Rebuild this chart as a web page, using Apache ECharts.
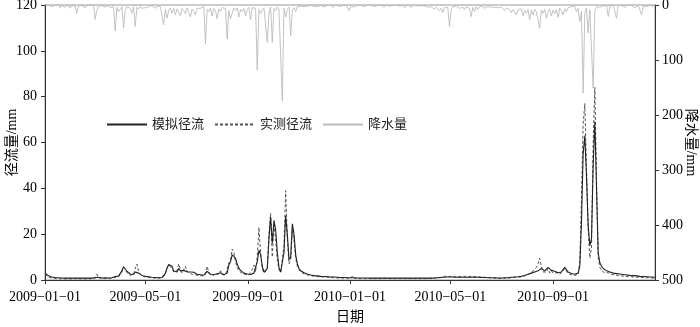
<!DOCTYPE html>
<html><head><meta charset="utf-8">
<script src="https://cdn.jsdelivr.net/npm/echarts@6/dist/echarts.min.js"></script>
<style>html,body{margin:0;padding:0;background:#fff}#c{width:700px;height:327px}</style>
</head><body><div id="c"></div><script>
// sampling: every 2 days starting 2009-01-01 (366 samples, to 2011-01-01)
const startYear = 2009, stepDays = 2;
const xTickLabels = ['2009-01-01','2009-05-01','2009-09-01','2010-01-01','2010-05-01','2010-09-01'];
const leftTicks = [0,20,40,60,80,100,120];
const rightTicks = [0,100,200,300,400,500];

const precip = [
0,1,0,2,3,0,1,2,0,5,
1,0,4,1,0,6,2,0,1,15,
2,0,1,2,5,1,4,0,2,1,
26,10,2,5,1,3,4,2,1,5,
2,3,47,4,12,8,3,42,10,3,
2,6,15,3,39,4,8,2,6,3,
5,2,3,4,1,3,6,2,5,3,
4,36,8,24,10,5,15,6,18,7,
12,20,6,10,16,5,8,22,7,12,
18,6,4,6,4,3,71,8,12,5,
20,6,10,25,7,12,5,8,6,62,
10,25,15,6,10,5,22,8,12,6,
20,8,4,27,5,8,6,118,8,15,
10,5,6,68,15,4,68,6,10,4,
8,5,174,6,22,8,4,56,10,5,
12,3,5,2,1,3,1,2,4,1,
0,2,1,3,0,1,2,3,0,1,
2,0,4,1,0,2,3,0,1,2,
0,1,10,2,0,4,1,0,2,1,
0,3,1,0,2,0,1,3,0,1,
2,0,1,4,0,1,2,0,1,3,
0,1,2,0,1,5,2,0,1,4,
2,0,1,2,3,1,0,2,1,4,
2,3,5,8,4,3,10,6,14,5,
8,4,39,10,3,4,2,5,6,3,
4,8,3,5,6,21,4,12,3,8,
3,5,2,6,8,3,6,4,2,4,
3,5,6,4,7,10,5,6,8,14,
8,6,18,9,12,7,20,10,15,8,
27,9,18,8,12,10,42,9,15,8,
24,12,7,20,9,16,8,22,6,10,
18,7,12,5,8,3,4,2,12,6,
30,12,160,15,5,51,8,10,151,10,
3,2,4,1,2,3,1,21,2,4,
1,2,24,1,3,1,2,4,1,0,
3,1,0,5,2,1,0,18,2,1,
3,0,1,4,2,0
];

const simRunoff = [
3.0,2.4,1.9,1.5,1.3,1.2,1.1,1.0,1.0,0.9,
0.9,0.8,0.8,0.9,0.8,0.8,0.9,0.8,0.8,0.8,
0.8,0.9,0.8,0.8,0.8,0.9,0.9,0.8,0.8,0.9,
1.0,1.6,1.2,0.9,0.9,0.9,1.0,1.0,0.9,0.9,
1.0,1.2,1.5,1.6,1.7,2.2,4.0,5.8,5.0,3.8,
3.0,2.6,2.2,2.4,3.5,3.8,3.0,2.4,2.0,1.8,
1.6,1.5,1.4,1.3,1.2,1.2,1.1,1.0,1.0,1.0,
1.1,1.5,2.8,5.0,6.8,7.5,6.0,4.0,3.2,3.5,
5.0,4.0,3.2,4.2,4.6,3.6,3.0,3.5,2.8,3.4,
2.7,2.5,2.4,2.3,2.2,2.1,2.3,3.8,3.0,2.5,
2.8,2.4,3.0,2.6,2.7,3.2,2.6,2.3,2.5,3.0,
6.5,8.0,11.0,11.5,9.5,7.0,5.2,4.2,3.5,3.0,
2.8,2.6,2.5,2.4,2.8,3.0,3.6,8.0,13.0,11.0,
6.0,3.5,2.8,5.0,18.0,27.5,16.0,26.0,22.0,12.0,
5.5,3.5,3.0,12.0,28.0,20.0,9.0,10.0,24.5,20.0,
11.0,7.0,5.0,4.0,3.6,3.2,2.9,2.6,2.4,2.2,
2.0,1.9,1.8,1.8,1.7,1.6,1.6,1.5,1.5,1.4,
1.4,1.3,1.3,1.3,1.2,1.2,1.2,1.1,1.1,1.1,
1.0,1.0,1.0,1.0,1.1,1.0,0.9,0.9,0.9,0.9,
0.9,0.9,0.8,0.9,0.8,0.8,0.8,0.9,0.8,0.8,
0.8,0.8,0.8,0.8,0.9,0.8,0.8,0.8,0.8,0.8,
0.8,0.8,0.9,0.8,0.8,0.8,0.8,0.8,0.8,0.8,
0.8,0.8,0.8,0.8,0.8,0.8,0.8,0.9,0.8,0.8,
0.8,0.8,0.9,0.9,0.9,1.0,1.0,1.1,1.2,1.2,
1.3,1.3,1.4,1.3,1.3,1.2,1.2,1.2,1.1,1.2,
1.2,1.2,1.3,1.2,1.2,1.2,1.3,1.3,1.2,1.2,
1.2,1.1,1.1,1.1,1.0,1.0,1.0,1.0,1.0,1.0,
1.0,0.9,0.9,0.9,0.9,1.0,1.0,1.0,1.1,1.2,
1.2,1.3,1.3,1.4,1.5,1.6,1.8,2.0,2.2,2.5,
2.8,3.0,3.2,3.5,3.8,4.0,4.5,5.0,4.5,4.0,
4.5,5.5,4.8,4.2,4.5,3.8,3.5,3.2,3.0,3.5,
4.5,5.5,4.5,3.5,3.0,2.8,2.6,2.5,2.6,3.0,
6.0,25.0,55.0,63.0,45.0,24.0,15.0,18.0,50.0,69.0,
40.0,12.0,7.5,6.0,5.0,4.5,4.0,3.8,3.5,3.2,
3.0,2.9,2.8,2.7,2.6,2.5,2.4,2.3,2.2,2.1,
2.0,1.9,1.9,1.8,1.8,1.7,1.6,1.6,1.5,1.5,
1.4,1.4,1.3,1.3,1.2,1.2
];

const obsRunoff = [
2.5,1.8,1.3,1.0,0.8,0.7,0.6,0.6,0.6,0.6,
0.5,0.5,0.5,0.6,0.5,0.5,0.5,0.5,0.6,0.5,
0.5,0.5,0.5,0.6,0.5,0.5,0.5,0.5,0.6,0.5,
0.8,2.6,1.0,0.7,0.7,0.7,0.7,0.7,0.7,0.7,
0.8,0.9,1.1,1.3,1.5,2.0,3.5,5.5,4.5,3.2,
2.4,2.0,1.8,2.5,5.0,7.0,4.0,2.5,1.8,1.5,
1.3,1.2,1.1,1.0,0.9,0.9,0.8,0.8,0.8,0.8,
0.9,1.5,3.0,5.5,6.5,7.0,5.0,3.5,3.0,4.0,
7.0,4.5,3.0,4.5,6.0,4.0,3.0,3.2,2.5,3.0,
2.2,2.0,1.9,1.8,1.8,1.8,2.5,6.0,3.5,2.3,
2.5,2.0,3.0,2.2,2.5,4.0,2.4,2.0,2.2,2.8,
7.5,8.5,13.5,12.0,8.0,5.5,4.0,3.2,2.8,2.5,
2.4,2.3,2.2,2.5,4.5,6.5,3.5,10.0,23.0,12.0,
5.0,3.0,2.5,4.5,20.0,29.0,10.0,24.0,18.0,9.0,
4.5,3.2,3.0,15.0,39.0,18.0,7.0,9.0,22.0,17.0,
9.5,6.0,4.5,3.5,3.0,2.7,2.4,2.2,2.0,1.9,
1.8,1.7,1.6,1.5,1.5,1.4,1.3,1.3,1.2,1.2,
1.1,1.1,1.0,1.0,1.0,0.9,0.9,0.9,0.8,0.8,
0.8,0.8,0.7,0.7,1.8,0.8,0.7,0.6,0.6,0.6,
0.6,0.6,0.6,0.6,0.6,0.6,0.6,0.6,0.6,0.6,
0.6,0.6,0.6,0.7,0.6,0.6,0.6,0.6,0.6,0.6,
0.6,0.6,0.6,0.6,0.7,0.6,0.6,0.6,0.6,0.6,
0.6,0.6,0.6,0.6,0.6,0.6,0.6,0.6,0.6,0.6,
0.6,0.7,0.7,0.8,0.8,0.9,1.0,1.2,1.4,1.6,
1.8,1.5,1.4,1.5,1.6,1.5,1.4,1.5,1.6,1.5,
1.5,1.6,1.5,1.4,1.5,1.6,1.5,1.4,1.5,1.4,
1.4,1.3,1.3,1.2,1.2,1.1,1.0,0.9,0.9,0.8,
0.8,0.8,0.7,0.7,0.7,0.8,0.8,0.8,0.9,1.0,
1.0,1.1,1.2,1.3,1.3,1.4,1.6,1.8,2.0,2.4,
2.8,3.2,3.8,4.5,5.5,7.0,9.5,6.0,3.5,2.8,
3.5,5.0,3.0,4.0,3.0,2.8,3.2,2.6,2.5,3.0,
4.0,5.0,3.8,2.8,2.4,2.2,2.1,2.0,2.1,2.5,
8.0,35.0,68.0,77.0,50.0,22.0,9.6,14.0,60.0,84.0,
45.0,10.0,5.5,4.2,3.5,3.0,2.8,3.2,2.6,2.4,
2.2,2.3,2.0,1.9,1.8,1.8,1.7,1.6,1.5,1.5,
1.4,1.4,1.3,1.3,1.2,1.2,1.1,1.1,1.1,1.0,
1.0,1.0,0.9,0.9,0.9,0.9
];

// x positions are day offsets from 2009-01-01
const DAY = 86400000;
const t0 = new Date(startYear, 0, 1).getTime();
const dayOffset = s => { const p = s.split('-').map(Number); return Math.round((new Date(p[0], p[1] - 1, p[2]).getTime() - t0) / DAY); };
const xs = simRunoff.map((_, i) => i * stepDays);
const tickDays = xTickLabels.map(dayOffset);
const labelFor = v => { const k = tickDays.indexOf(Math.round(v)); return k >= 0 ? xTickLabels[k].replace(/-/g, '\u2212') : ''; };

const serif = "'Liberation Serif','Noto Sans CJK SC',serif";
const axisCol = '#333';

const chart = echarts.init(document.getElementById('c'), null, { renderer: 'canvas' });
chart.setOption({
  animation: false,
  backgroundColor: '#fff',
  grid: { left: 45, right: 45, top: 5, bottom: 47, containLabel: false, outerBoundsMode: 'none',
          show: true, borderColor: '#999', borderWidth: 1, backgroundColor: 'transparent' },
  legend: {
    left: 101, top: 113, itemWidth: 40, itemHeight: 14, itemGap: 10,
    itemStyle: { opacity: 0 },
    textStyle: { fontFamily: serif, fontSize: 13, color: '#222' },
    data: ['模拟径流', '实测径流', '降水量']
  },
  xAxis: {
    type: 'value', min: xs[0], max: xs[xs.length - 1],
    name: '日期', nameLocation: 'middle', nameGap: 30, nameMoveOverlap: false,
    nameTextStyle: { fontFamily: serif, fontSize: 14, color: '#000' },
    axisLine: { lineStyle: { color: axisCol, width: 1 } },
    axisTick: { show: true, inside: false, length: 4, customValues: tickDays, lineStyle: { color: axisCol } },
    axisLabel: { customValues: tickDays, formatter: labelFor, fontFamily: serif, fontSize: 14, color: '#000', margin: 10 },
    splitLine: { show: false }
  },
  yAxis: [{
    type: 'value', min: leftTicks[0], max: leftTicks[leftTicks.length - 1], interval: 20,
    name: '径流量/mm', nameLocation: 'middle', nameGap: 26, nameRotate: 90, nameMoveOverlap: false,
    nameTextStyle: { fontFamily: serif, fontSize: 14, color: '#000' },
    axisLine: { show: true, lineStyle: { color: axisCol } },
    axisTick: { show: true, inside: false, length: 4, lineStyle: { color: axisCol } },
    axisLabel: { fontFamily: serif, fontSize: 14, color: '#000', margin: 8 },
    splitLine: { show: false }
  }, {
    type: 'value', position: 'right', inverse: true,
    min: rightTicks[0], max: rightTicks[rightTicks.length - 1], interval: 100,
    name: '降水量/mm', nameLocation: 'middle', nameGap: 29, nameRotate: -90, nameMoveOverlap: false,
    nameTextStyle: { fontFamily: serif, fontSize: 14, color: '#000' },
    axisLine: { show: true, lineStyle: { color: axisCol } },
    axisTick: { show: true, inside: false, length: 4, lineStyle: { color: axisCol } },
    axisLabel: { fontFamily: serif, fontSize: 14, color: '#000', margin: 7 },
    splitLine: { show: false }
  }],
  series: [{
    name: '降水量', type: 'line', yAxisIndex: 1, symbol: 'none', z: 1,
    lineStyle: { color: '#bcbcbc', width: 0.9 }, itemStyle: { color: '#bcbcbc' },
    data: xs.map((d, i) => [d, precip[i]])
  }, {
    name: '实测径流', type: 'line', symbol: 'none', z: 2,
    lineStyle: { color: '#555', width: 1, type: [3, 2] }, itemStyle: { color: '#555' },
    data: xs.map((d, i) => [d, obsRunoff[i]])
  }, {
    name: '模拟径流', type: 'line', symbol: 'none', z: 3,
    lineStyle: { color: '#222', width: 1.1 }, itemStyle: { color: '#222' },
    data: xs.map((d, i) => [d, simRunoff[i]])
  }]
});
</script></body></html>
